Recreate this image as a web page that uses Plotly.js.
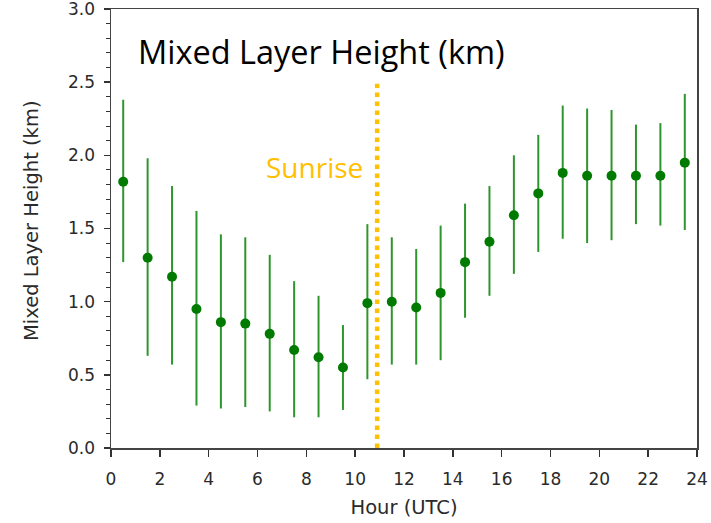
<!DOCTYPE html>
<html>
<head>
<meta charset="utf-8">
<script src="https://cdn.plot.ly/plotly-3.0.1.min.js"></script>
<style>html,body{margin:0;padding:0;background:#fff;}#chart{width:711px;height:523px;}</style>
</head>
<body>
<div id="chart"></div>
<script>
// Hour (UTC) bin centres
const hours = [0.5,1.5,2.5,3.5,4.5,5.5,6.5,7.5,8.5,9.5,10.5,11.5,12.5,13.5,14.5,15.5,16.5,17.5,18.5,19.5,20.5,21.5,22.5,23.5];
// Mean mixed layer height (km)
const mlh = [1.82,1.30,1.17,0.95,0.86,0.85,0.78,0.67,0.62,0.55,0.99,1.00,0.96,1.06,1.27,1.41,1.59,1.74,1.88,1.86,1.86,1.86,1.86,1.95];
// Upper and lower ends of the bars (km)
const upper = [2.38,1.98,1.79,1.62,1.46,1.44,1.32,1.14,1.04,0.84,1.53,1.44,1.36,1.52,1.67,1.79,2.00,2.14,2.34,2.32,2.31,2.21,2.22,2.42];
const lower = [1.27,0.63,0.57,0.29,0.27,0.28,0.25,0.21,0.21,0.26,0.47,0.57,0.57,0.60,0.89,1.04,1.19,1.34,1.43,1.40,1.42,1.53,1.52,1.49];
const sunriseHour = 10.9;
const sunriseTop = 2.49;
const xTicks = [0,2,4,6,8,10,12,14,16,18,20,22,24];
const yTicks = [0.0,0.5,1.0,1.5,2.0,2.5,3.0];
const yTickText = ["0.0","0.5","1.0","1.5","2.0","2.5","3.0"];

const plus = upper.map((u,i)=>u-mlh[i]);
const minus = lower.map((l,i)=>mlh[i]-l);

const trace = {
  x: hours, y: mlh, type: 'scatter', mode: 'markers',
  marker: {color: '#007a00', size: 10, symbol: 'circle'},
  error_y: {type: 'data', symmetric: false, array: plus, arrayminus: minus,
            color: '#2e962e', thickness: 2, width: 0},
  showlegend: false, hoverinfo: 'skip'
};

const tickFont = {family: 'DejaVu Sans, sans-serif', size: 17, color: '#2a2a2a'};
const titleFont = {family: 'DejaVu Sans, sans-serif', size: 19.5, color: '#2a2a2a'};
const layout = {
  width: 711, height: 523,
  margin: {l: 111, r: 14, t: 9, b: 75},
  paper_bgcolor: '#fff', plot_bgcolor: '#fff',
  xaxis: {
    range: [0, 24], tickvals: xTicks, ticks: 'outside', ticklen: 7, tickwidth: 1.5,
    tickcolor: '#333', showline: true, linecolor: '#444', linewidth: 1.5, mirror: true,
    showgrid: false, zeroline: false, tickfont: tickFont, ticklabelstandoff: 8,
    ticklabeloverflow: 'allow',
    title: {text: 'Hour (UTC)', font: titleFont, standoff: 12}
  },
  yaxis: {
    range: [0, 3.0], tickvals: yTicks, ticktext: yTickText, ticks: 'outside', ticklen: 6, tickwidth: 1.5,
    tickcolor: '#333', showline: true, linecolor: '#444', linewidth: 1.5, mirror: true,
    showgrid: false, zeroline: false, tickfont: tickFont, ticklabelstandoff: 5,
    ticklabeloverflow: 'allow',
    minor: {dtick: 0.1, ticks: 'outside', ticklen: 4, tickcolor: '#333', tickwidth: 1}
  },
  shapes: [{
    type: 'line', xref: 'x', yref: 'y', x0: sunriseHour, x1: sunriseHour, y0: 0, y1: sunriseTop,
    line: {color: '#ffc000', width: 4.5, dash: 'dot'}
  }],
  annotations: [
    {text: 'Mixed Layer Height (km)', xref: 'paper', yref: 'paper', x: (136-111)/586, y: (448-51)/439,
     xanchor: 'left', yanchor: 'middle', showarrow: false,
     font: {family: 'Open Sans, sans-serif', size: 32.5, color: '#000'}},
    {text: 'Sunrise', xref: 'paper', yref: 'paper', x: (264-111)/586, y: (448-167)/439,
     xanchor: 'left', yanchor: 'middle', showarrow: false,
     font: {family: 'Open Sans, sans-serif', size: 28, color: '#ffc000'}},
    {text: 'Mixed Layer Height (km)', xref: 'paper', yref: 'paper', x: (32-111)/586, y: (448-221)/439,
     xanchor: 'center', yanchor: 'middle', textangle: -90, showarrow: false, font: titleFont}
  ]
};
Plotly.newPlot('chart', [trace], layout, {staticPlot: true, displayModeBar: false});
</script>
</body>
</html>
